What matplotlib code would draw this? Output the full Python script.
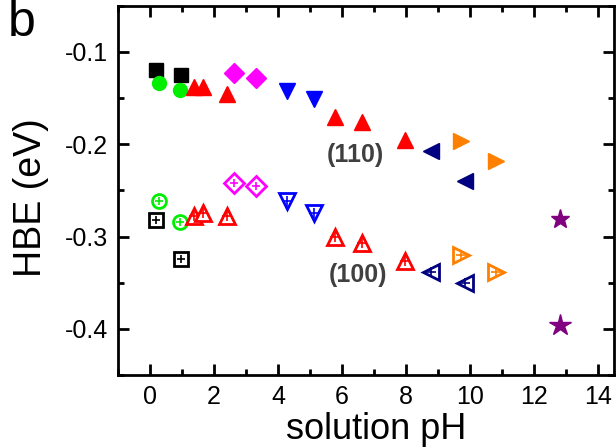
import matplotlib
matplotlib.use("Agg")
import matplotlib.pyplot as plt
from matplotlib.ticker import MultipleLocator

plt.rcParams['font.family'] = ['Liberation Sans', 'DejaVu Sans']

# ---- data: (pH, HBE(110), HBE(100)) per group ----
ph_black = [0.18, 0.98]
hbe110_black = [-0.120, -0.125]
hbe100_black = [-0.282, -0.324]

ph_green = [0.28, 0.93]
hbe110_green = [-0.134, -0.141]
hbe100_green = [-0.262, -0.284]

ph_red = [1.39, 1.67, 2.41, 5.77, 6.63, 7.97]
hbe110_red = [-0.138, -0.138, -0.146, -0.170, -0.176, -0.195]
hbe100_red = [-0.278, -0.275, -0.278, -0.300, -0.307, -0.326]

ph_magenta = [2.64, 3.30]
hbe110_magenta = [-0.123, -0.128]
hbe100_magenta = [-0.242, -0.245]

ph_blue = [4.29, 5.14]
hbe110_blue = [-0.142, -0.151]
hbe100_blue = [-0.262, -0.274]

ph_navy = [8.77, 9.86]
hbe110_navy = [-0.207, -0.240]
hbe100_navy = [-0.338, -0.350]

ph_orange = [9.72, 10.80]
hbe110_orange = [-0.196, -0.218]
hbe100_orange = [-0.320, -0.338]

ph_purple = [12.80]
hbe110_purple = [-0.281]
hbe100_purple = [-0.396]

groups = [
    (ph_black, hbe110_black, hbe100_black, '#000000', 's', 10),
    (ph_green, hbe110_green, hbe100_green, '#00ee00', 'o', 10),
    (ph_red, hbe110_red, hbe100_red, '#ff0000', '^', 12),
    (ph_magenta, hbe110_magenta, hbe100_magenta, '#ff00ff', 'D', 10),
    (ph_blue, hbe110_blue, hbe100_blue, '#0000ff', 'v', 12),
    (ph_navy, hbe110_navy, hbe100_navy, '#000080', '<', 12),
    (ph_orange, hbe110_orange, hbe100_orange, '#ff8000', '>', 12),
    (ph_purple, hbe110_purple, hbe100_purple, '#800080', '*', 14),
]

fig = plt.figure(figsize=(6.16, 4.48), dpi=100)
ax = fig.add_axes([0.1916, 0.163, 0.805, 0.824])

for ph, h110, h100, col, mk, ms in groups:
    ax.plot(ph, h110, linestyle='none', marker=mk, ms=ms, color=col, mec=col, zorder=3)
    if mk == '*':
        ax.plot(ph, h100, linestyle='none', marker=mk, ms=ms + 2, color=col, mec=col, zorder=3)
    else:
        ax.plot(ph, h100, linestyle='none', marker=mk, ms=ms, mfc='white', mec=col, mew=2.0, zorder=3)
        ax.plot(ph, h100, linestyle='none', marker='+', ms=ms * 0.55, mec=col, mew=1.2, zorder=4)

ax.text(6.43, -0.212, '(110)', color='#404040', fontsize=18, fontweight='bold',
        ha='center', va='center')
ax.text(6.49, -0.342, '(100)', color='#404040', fontsize=18, fontweight='bold',
        ha='center', va='center')

ax.set_xlim(-1, 14.5)
ax.set_ylim(-0.45, -0.05)
ax.xaxis.set_major_locator(MultipleLocator(2))
ax.xaxis.set_minor_locator(MultipleLocator(1))
ax.yaxis.set_major_locator(MultipleLocator(0.1))
ax.yaxis.set_minor_locator(MultipleLocator(0.05))
ax.set_yticks([-0.1, -0.2, -0.3, -0.4])
ax.set_yticklabels(['-0.1', '-0.2', '-0.3', '-0.4'])

for s in ax.spines.values():
    s.set_linewidth(2)
ax.tick_params(which='both', direction='in', top=True, right=True, width=2, labelsize=18)
ax.tick_params(which='major', length=8)
ax.tick_params(which='minor', length=4)
ax.tick_params(axis='x', pad=7)
ax.tick_params(axis='y', pad=7)

ax.set_xlabel('solution pH', fontsize=26, va='center')
ax.xaxis.set_label_coords(0.52, -0.149)
ax.set_ylabel('HBE (eV)', fontsize=27, va='center')
ax.yaxis.set_label_coords(-0.175, 0.48)

fig.text(22 / 616, 1 - 23 / 448, 'b', fontsize=36, ha='center', va='center')

fig.savefig('out.png', dpi=100)
